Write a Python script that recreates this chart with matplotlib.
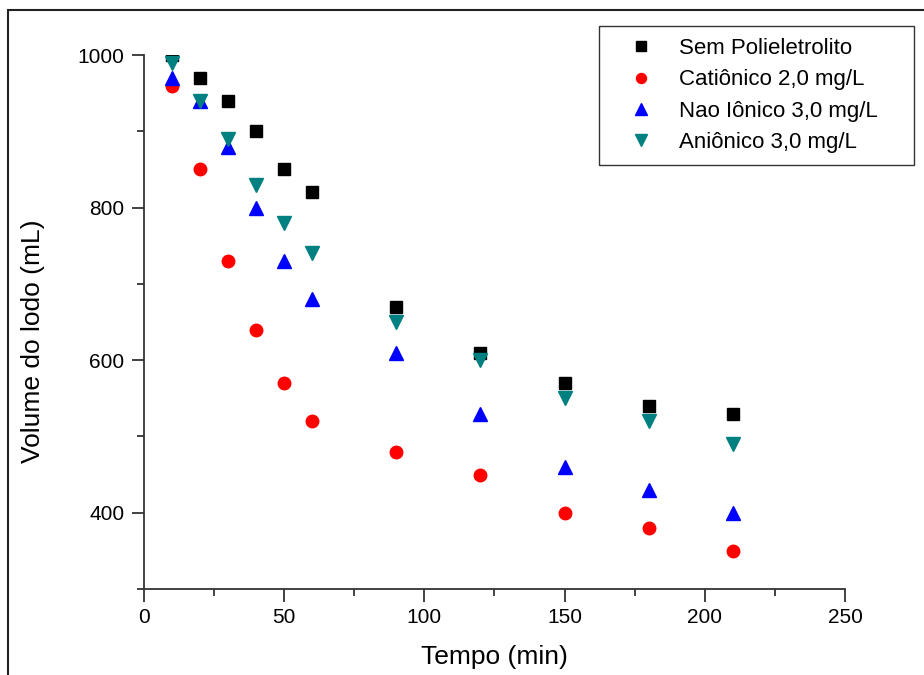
import matplotlib.pyplot as plt
from matplotlib.patches import Rectangle
from matplotlib.ticker import MultipleLocator

plt.rcParams['font.family'] = ['Liberation Sans', 'DejaVu Sans']

tempo = [10, 20, 30, 40, 50, 60, 90, 120, 150, 180, 210]
sem_poli = [1000, 970, 940, 900, 850, 820, 670, 610, 570, 540, 530]
cationico = [960, 850, 730, 640, 570, 520, 480, 450, 400, 380, 350]
nao_ionico = [970, 940, 880, 800, 730, 680, 610, 530, 460, 430, 400]
anionico = [990, 940, 890, 830, 780, 740, 650, 600, 550, 520, 490]

labels = ["Sem Polieletrolito", "Catiônico 2,0 mg/L",
          "Nao Iônico 3,0 mg/L", "Aniônico 3,0 mg/L"]

W, H = 924, 675
fig = plt.figure(figsize=(W / 100, H / 100), dpi=100)
ax = fig.add_axes([0.1558, 0.1274, 0.7587, 0.7911])

ax.plot(tempo, sem_poli, 's', color='black', ms=8.5, label=labels[0])
ax.plot(tempo, cationico, 'o', color='#ff0000', ms=9, label=labels[1])
ax.plot(tempo, nao_ionico, '^', color='#0000ff', ms=10, label=labels[2])
ax.plot(tempo, anionico, 'v', color='#008080', ms=10, label=labels[3])

ax.set_xlim(0, 250)
ax.set_ylim(300, 1000)
ax.xaxis.set_major_locator(MultipleLocator(50))
ax.xaxis.set_minor_locator(MultipleLocator(25))
ax.yaxis.set_major_locator(MultipleLocator(200))
ax.yaxis.set_minor_locator(MultipleLocator(100))
ax.set_yticks([400, 600, 800, 1000])

for side in ['top', 'right']:
    ax.spines[side].set_visible(False)
for side in ['left', 'bottom']:
    ax.spines[side].set_color('#333333')
    ax.spines[side].set_linewidth(1.3)

ax.tick_params(which='major', direction='out', length=9, width=1.3,
               color='#333333', labelsize=15, pad=5)
ax.tick_params(which='minor', direction='out', length=5, width=1.3,
               color='#333333')

# axis titles placed in figure pixels
fig.text(494 / W, 1 - 657 / H, "Tempo (min)", fontsize=19,
         ha='center', va='center')
fig.text(33 / W, 1 - 341 / H, "Volume do lodo (mL)", fontsize=19,
         ha='center', va='center', rotation=90)

# legend box stretched to the reference width
leg = ax.legend(loc='upper left',
                bbox_to_anchor=(599 / W, 1 - 162 / H, 315 / W, 136 / H),
                bbox_transform=fig.transFigure, mode='expand', fontsize=16,
                frameon=True, fancybox=False, edgecolor='black',
                borderpad=0.55, labelspacing=0.46, handletextpad=0.35,
                handlelength=2.7, borderaxespad=0, markerscale=0.8)
leg.get_frame().set_linewidth(1.0)

# outer border around the figure
fig.patches.append(Rectangle((8 / W, -0.05), 1.1, 1 - 10 / H + 0.05,
                             transform=fig.transFigure, fill=False,
                             edgecolor='#222222', linewidth=1.5))

fig.savefig("out.png", dpi=100)
